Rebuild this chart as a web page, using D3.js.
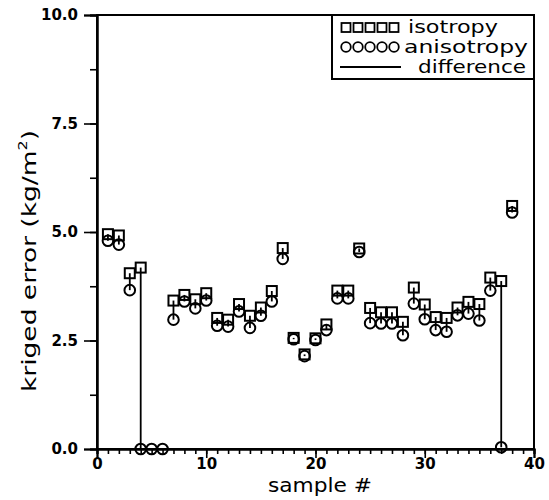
<!DOCTYPE html>
<html><head><meta charset="utf-8">
<script src="https://cdn.jsdelivr.net/npm/d3@7"></script>
<style>body{margin:0;background:#fff}svg{display:block}</style>
</head><body>
<svg id="c" width="549" height="500"></svg>
<script>
const samples = d3.range(1, 39);
const isotropy = [4.95,4.92,4.05,4.18,null,null,3.42,3.55,3.45,3.59,3.02,2.98,3.34,3.07,3.26,3.64,4.63,2.56,2.18,2.55,2.87,3.65,3.65,4.62,3.25,3.15,3.15,2.93,3.72,3.33,3.04,3.02,3.26,3.39,3.34,3.95,3.87,5.6];
const anisotropy = [4.8,4.71,3.66,0,0,0,2.98,3.4,3.24,3.42,2.84,2.82,3.17,2.79,3.07,3.4,4.38,2.53,2.14,2.51,2.74,3.47,3.47,4.54,2.9,2.89,2.89,2.62,3.35,2.99,2.74,2.7,3.08,3.12,2.96,3.65,0.04,5.45];
const xTicks = [0,10,20,30,40];
const yTicks = [0,2.5,5,7.5,10];
const legendLabels = ["isotropy","anisotropy","difference"];

const svg = d3.select("#c");
const x = d3.scaleLinear().domain([0,40]).range([97,534]);
const y = d3.scaleLinear().domain([0,10]).range([449,15]);
const font = "'DejaVu Sans', sans-serif";

// frame
svg.append("rect").attr("x",x(0)).attr("y",y(10)).attr("width",x(40)-x(0)).attr("height",y(0)-y(10))
  .attr("fill","none").attr("stroke","#000").attr("stroke-width",2);

// x axis
const xa = svg.append("g").attr("transform",`translate(0,${y(0)})`);
xa.call(d3.axisBottom(x).tickValues(d3.range(0,41,1)).tickSize(5).tickFormat(""));
xa.append("g").call(d3.axisBottom(x).tickValues(xTicks).tickSize(9).tickFormat(d3.format("d")));
xa.selectAll(".domain").attr("stroke-width",2);
xa.selectAll(".tick line").attr("stroke-width",1.6);
xa.selectAll("text").attr("font-family",font).attr("font-weight","bold").attr("font-size",15).attr("dy","0.55em").attr("fill","#000");

// y axis
const ya = svg.append("g").attr("transform",`translate(${x(0)},0)`);
ya.call(d3.axisLeft(y).tickValues(d3.range(0,10.01,1.25)).tickSize(7).tickFormat(""));
ya.append("g").call(d3.axisLeft(y).tickValues(yTicks).tickSize(13).tickPadding(6).tickFormat(d3.format(".1f")));
ya.selectAll(".domain").attr("stroke-width",2);
ya.selectAll(".tick line").attr("stroke-width",1.6);
ya.selectAll("text").attr("font-family",font).attr("font-weight","bold").attr("font-size",15).attr("fill","#000");

// axis titles
svg.append("text").attr("x",268).attr("y",492).attr("font-family",font).attr("font-size",20)
  .attr("textLength",104).attr("lengthAdjust","spacingAndGlyphs").text("sample  #");
const yl = svg.append("text").attr("transform","translate(36,392) rotate(-90)")
  .attr("font-family",font).attr("font-size",20);
yl.append("tspan").text("kriged  error  (kg/m");
yl.append("tspan").attr("font-size",12).attr("dy",-9).text("2");
yl.append("tspan").attr("dy",9).text(")");
yl.attr("textLength",262).attr("lengthAdjust","spacingAndGlyphs");

// data
const data = samples.map((s,i)=>({s, iso:isotropy[i], an:anisotropy[i]}));
const g = svg.append("g");
g.selectAll("line.diff").data(data.filter(d=>d.iso!=null && d.an!=null)).join("line")
  .attr("x1",d=>x(d.s)).attr("x2",d=>x(d.s)).attr("y1",d=>y(d.iso)).attr("y2",d=>y(d.an))
  .attr("stroke","#000").attr("stroke-width",1.8);
const sq = 10;
g.selectAll("rect.iso").data(data.filter(d=>d.iso!=null)).join("rect")
  .attr("x",d=>x(d.s)-sq/2).attr("y",d=>y(d.iso)-sq/2).attr("width",sq).attr("height",sq)
  .attr("fill","none").attr("stroke","#000").attr("stroke-width",2);
g.selectAll("circle.an").data(data.filter(d=>d.an!=null)).join("circle")
  .attr("cx",d=>x(d.s)).attr("cy",d=>y(d.an)).attr("r",5.3)
  .attr("fill","none").attr("stroke","#000").attr("stroke-width",2);

// legend
const lg = svg.append("g");
lg.append("rect").attr("x",332).attr("y",15).attr("width",534-332).attr("height",64)
  .attr("fill","#fff").attr("stroke","#000").attr("stroke-width",2);
const lx = [346,358,370,382,394];
lg.selectAll("rect.ls").data(lx).join("rect").attr("x",d=>d-4.5).attr("y",23).attr("width",9).attr("height",9)
  .attr("fill","none").attr("stroke","#000").attr("stroke-width",1.8);
lg.selectAll("circle.lc").data(lx).join("circle").attr("cx",d=>d).attr("cy",47).attr("r",4.8)
  .attr("fill","none").attr("stroke","#000").attr("stroke-width",1.8);
lg.append("line").attr("x1",340).attr("x2",401).attr("y1",67).attr("y2",67).attr("stroke","#000").attr("stroke-width",1.8);
const lt = [[408,33,90],[404,53,124],[418,73,108]];
lg.selectAll("text").data(legendLabels).join("text")
  .attr("x",(d,i)=>lt[i][0]).attr("y",(d,i)=>lt[i][1])
  .attr("font-family",font).attr("font-size",17)
  .attr("textLength",(d,i)=>lt[i][2]).attr("lengthAdjust","spacingAndGlyphs").text(d=>d);
</script>
</body></html>
